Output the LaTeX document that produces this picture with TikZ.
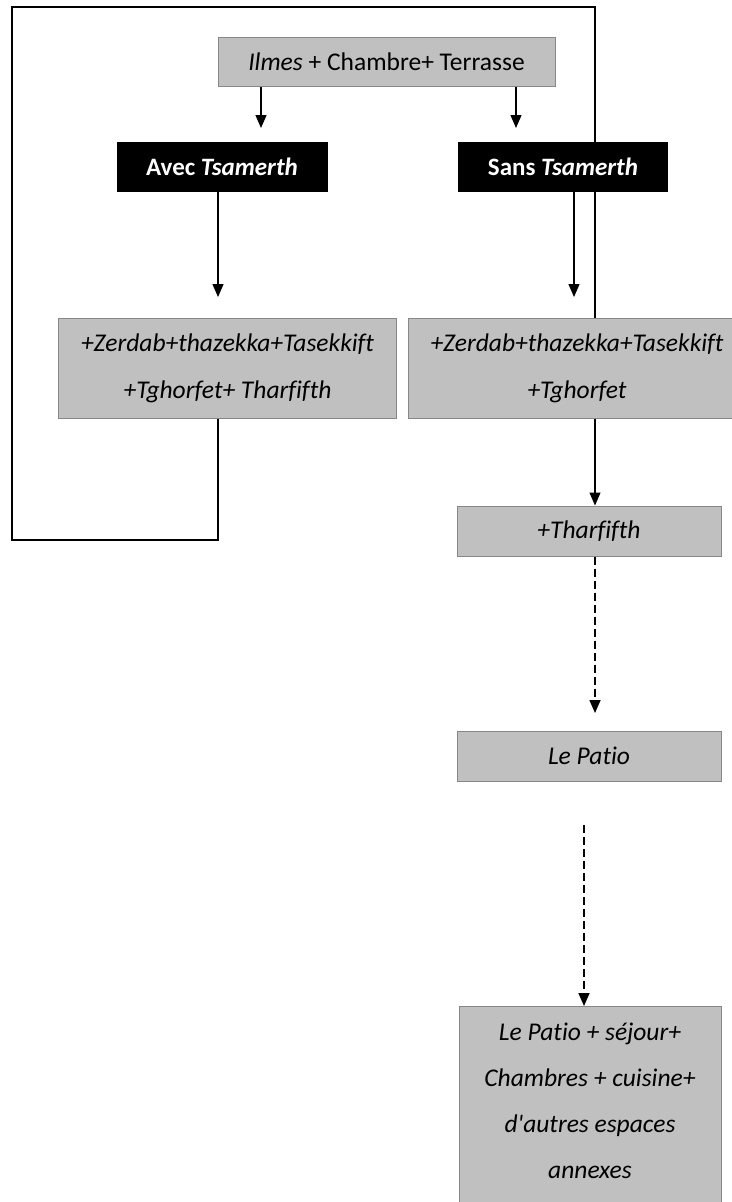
\documentclass[tikz,border=0pt]{standalone}
\usepackage{fontspec}
\setmainfont{Carlito}[Ligatures={NoCommon}]
\usetikzlibrary{arrows.meta}
\definecolor{boxgray}{RGB}{192,192,192}
\definecolor{edgegray}{RGB}{135,135,135}
\begin{document}
\begin{tikzpicture}[x=1pt,y=-1pt,
  gbox/.style={draw=edgegray, fill=boxgray, line width=1pt, inner sep=0pt, align=center,
    font=\fontsize{25.5}{47}\selectfont},
  itbox/.style={gbox, font=\fontsize{25.5}{47}\selectfont\itshape},
  bbox/.style={fill=black, text=white, inner sep=0pt, font=\fontsize{25}{28}\selectfont\bfseries},
  arr/.style={line width=1.3pt, -{Triangle[width=11pt,length=13pt]}},
  darr/.style={line width=1.6pt, dash pattern=on 8pt off 4pt, -{Triangle[width=11pt,length=13pt]}},
  framestyle/.style={line width=1.2pt}]
\useasboundingbox (0,0) rectangle (731,1202);

% frame coordinates
\coordinate (fr1) at (218,540);
\coordinate (fr2) at (12,540);
\coordinate (fr3) at (12,7);
\coordinate (fr4) at (595,7);

% nodes (positions)
\path (386.5,61.5) node[gbox, minimum width=337pt, minimum height=49pt] (top) {\textit{Ilmes} + Chambre+ Terrasse};
\path (227.5,368) node[itbox, minimum width=338pt, minimum height=100pt] (left) {+Zerdab+thazekka+Tasekkift\\+Tghorfet+ Tharfifth};
\path (577,368) node[itbox, minimum width=338pt, minimum height=100pt] (right) {+Zerdab+thazekka+Tasekkift\\+Tghorfet};

% frame (behind the black boxes)
\draw[framestyle] (left.south -| fr1) -- (fr1) -- (fr2) -- (fr3) -- (fr4) -- (right.north -| fr4);

\path (222,167) node[bbox, minimum width=211pt, minimum height=50pt] (avec) {Avec \textit{Tsamerth}};
\path (563,167) node[bbox, minimum width=210pt, minimum height=50pt] (sans) {Sans \textit{Tsamerth}};
\path (589,531) node[itbox, minimum width=264pt, minimum height=50pt] (thar) {+Tharfifth};
\path (589,756) node[itbox, minimum width=264pt, minimum height=50pt] (patio) {Le Patio};
\path (590,1006) node[gbox, anchor=north, font=\fontsize{25.5}{46}\selectfont\itshape] (last)
  {\parbox[c][240pt][t]{262pt}{\centering\rule{0pt}{34pt}Le Patio + séjour+\\Chambres + cuisine+\\d\textquotesingle{}autres espaces\\annexes}};

% connectors
\coordinate (t1) at (261,128);
\coordinate (t2) at (516,128);
\coordinate (a1) at (218,297);
\coordinate (s1) at (574,297);
\coordinate (d1) at (595,713);
\coordinate (d2) at (584,825);
\draw[arr] (top.south -| t1) -- (t1);
\draw[arr] (top.south -| t2) -- (t2);
\draw[arr] (avec.south -| a1) -- (a1);
\draw[arr] (sans.south -| s1) -- (s1);
\draw[arr] (right.south -| fr4) -- (thar.north -| fr4);
\draw[darr] (thar.south -| d1) -- (d1);
\draw[darr] (d2) -- (last.north -| d2);
\end{tikzpicture}
\end{document}
